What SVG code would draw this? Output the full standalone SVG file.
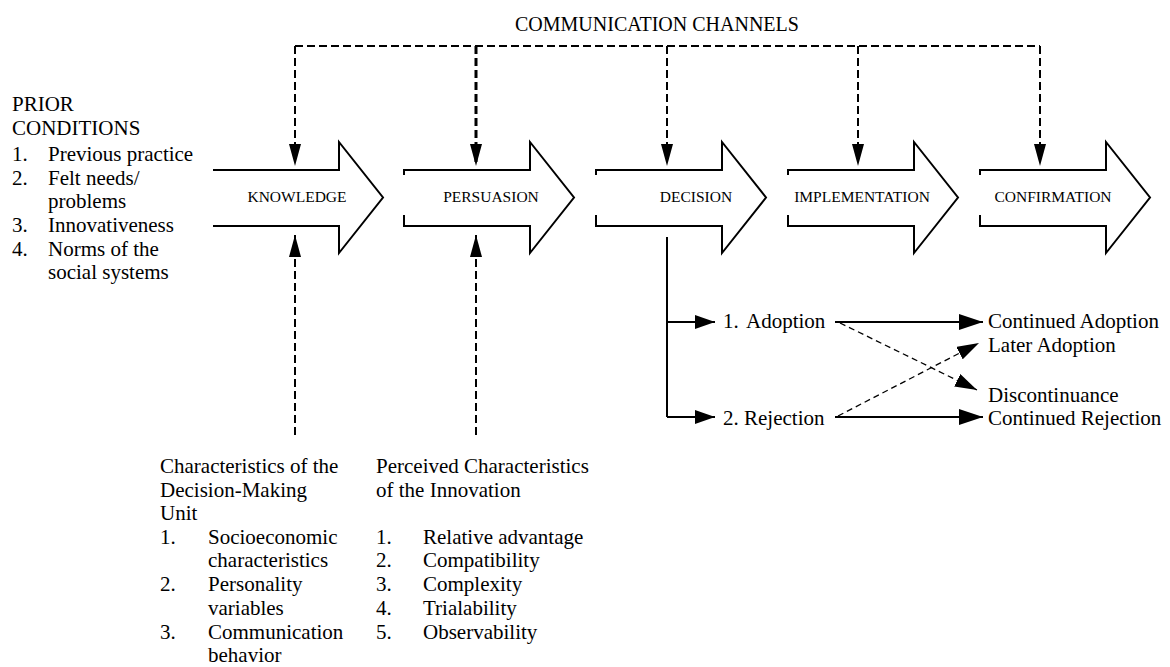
<svg xmlns="http://www.w3.org/2000/svg" width="1170" height="667" viewBox="0 0 1170 667">
<style>
text{fill:#000}
.b{font-size:21px}
.lab{font-size:15.5px;text-anchor:middle}
.shape{fill:#fff;stroke:#000;stroke-width:2;stroke-linejoin:miter}
.dash{fill:none;stroke:#000;stroke-width:2;stroke-dasharray:8 4}
.solid{fill:none;stroke:#000;stroke-width:2}
.thin{fill:none;stroke:#000;stroke-width:1.3;stroke-dasharray:6 4}
</style>
<defs>
<marker id="ahDash" markerUnits="userSpaceOnUse" viewBox="0 0 22 12" markerWidth="22" markerHeight="12" refX="22" refY="6" orient="auto"><path d="M0,0 L22,6 L0,12 z" fill="#000" stroke="none"/></marker>
<marker id="ahSmall" markerUnits="userSpaceOnUse" viewBox="0 0 20 14" markerWidth="20" markerHeight="14" refX="20" refY="7" orient="auto"><path d="M0,0 L20,7 L0,14 z" fill="#000" stroke="none"/></marker>
<marker id="ahBig" markerUnits="userSpaceOnUse" viewBox="0 0 24 16" markerWidth="24" markerHeight="16" refX="24" refY="8" orient="auto"><path d="M0,0 L24,8 L0,16 z" fill="#000" stroke="none"/></marker>
<marker id="ahDiag" markerUnits="userSpaceOnUse" viewBox="0 0 22 14" markerWidth="22" markerHeight="14" refX="22" refY="7" orient="auto"><path d="M0,0 L22,7 L0,14 z" fill="#000" stroke="none"/></marker>
</defs>
<rect width="1170" height="667" fill="#fff"/>
<g font-family="Liberation Serif, DejaVu Serif, serif">

<g id="title"><text x="515" y="31" font-size="20">COMMUNICATION CHANNELS</text></g>

<g id="prior-conditions">
<text class="b" x="12" y="111">PRIOR</text>
<text class="b" x="12" y="135">CONDITIONS</text>
<text class="b" x="12" y="161">1.</text><text class="b" x="48" y="161">Previous practice</text>
<text class="b" x="12" y="185">2.</text><text class="b" x="48" y="185">Felt needs/</text>
<text class="b" x="48" y="208">problems</text>
<text class="b" x="12" y="232">3.</text><text class="b" x="48" y="232">Innovativeness</text>
<text class="b" x="12" y="256">4.</text><text class="b" x="48" y="256">Norms of the</text>
<text class="b" x="48" y="279">social systems</text>
</g>

<g id="knowledge">
<path class="shape" d="M213,170 H339 V142 L383,197.5 L339,253 V226 H213"/>
<text class="lab" x="297" y="202">KNOWLEDGE</text>
</g>
<g id="persuasion">
<path class="shape" d="M404,175 V170 H530 V142 L574,197.5 L530,253 V226 H404 V215"/>
<text class="lab" x="491" y="202">PERSUASION</text>
</g>
<g id="decision">
<path class="shape" d="M596,175 V170 H722 V142 L766,197.5 L722,253 V226 H596 V215"/>
<text class="lab" x="696" y="202">DECISION</text>
</g>
<g id="implementation">
<path class="shape" d="M788,175 V170 H914 V142 L958,197.5 L914,253 V226 H788 V215"/>
<text class="lab" x="862" y="202">IMPLEMENTATION</text>
</g>
<g id="confirmation">
<path class="shape" d="M980,175 V170 H1106 V142 L1150,197.5 L1106,253 V226 H980 V215"/>
<text class="lab" x="1053" y="202">CONFIRMATION</text>
</g>

<g id="adoption"><text class="b" x="723" y="328">1.</text><text class="b" x="746" y="328">Adoption</text></g>
<g id="rejection"><text class="b" x="723" y="425">2. Rejection</text></g>
<g id="continued-adoption"><text class="b" x="988" y="328">Continued Adoption</text></g>
<g id="later-adoption"><text class="b" x="988" y="352">Later Adoption</text></g>
<g id="discontinuance"><text class="b" x="988" y="402">Discontinuance</text></g>
<g id="continued-rejection"><text class="b" x="988" y="425">Continued Rejection</text></g>

<g id="decision-unit-characteristics">
<text class="b" x="160" y="473">Characteristics of the</text>
<text class="b" x="160" y="497">Decision-Making</text>
<text class="b" x="160" y="520">Unit</text>
<text class="b" x="160" y="544">1.</text><text class="b" x="208" y="544">Socioeconomic</text>
<text class="b" x="208" y="567">characteristics</text>
<text class="b" x="160" y="591">2.</text><text class="b" x="208" y="591">Personality</text>
<text class="b" x="208" y="615">variables</text>
<text class="b" x="160" y="639">3.</text><text class="b" x="208" y="639">Communication</text>
<text class="b" x="208" y="662">behavior</text>
</g>

<g id="innovation-characteristics">
<text class="b" x="376" y="473">Perceived Characteristics</text>
<text class="b" x="376" y="497">of the Innovation</text>
<text class="b" x="376" y="544">1.</text><text class="b" x="423" y="544">Relative advantage</text>
<text class="b" x="376" y="567">2.</text><text class="b" x="423" y="567">Compatibility</text>
<text class="b" x="376" y="591">3.</text><text class="b" x="423" y="591">Complexity</text>
<text class="b" x="376" y="615">4.</text><text class="b" x="423" y="615">Trialability</text>
<text class="b" x="376" y="639">5.</text><text class="b" x="423" y="639">Observability</text>
</g>
</g>

<g id="connectors">
<path class="dash" d="M295,46 H1040"/>
<path class="dash" d="M295,46 V166" marker-end="url(#ahDash)"/>
<path class="dash" d="M476,46 V166" style="stroke-width:3" marker-end="url(#ahDash)"/>
<path class="dash" d="M667,46 V166" marker-end="url(#ahDash)"/>
<path class="dash" d="M858,46 V166" marker-end="url(#ahDash)"/>
<path class="dash" d="M1040,46 V166" marker-end="url(#ahDash)"/>
<path class="dash" d="M295,435 V235" marker-end="url(#ahDash)"/>
<path class="dash" d="M476,435 V235" marker-end="url(#ahDash)"/>
<path class="solid" d="M667,237 V417"/>
<path class="solid" d="M667,322 H715" marker-end="url(#ahSmall)"/>
<path class="solid" d="M667,417 H715" marker-end="url(#ahSmall)"/>
<path class="solid" d="M835,322 H983" marker-end="url(#ahBig)"/>
<path class="solid" d="M835,417 H983" marker-end="url(#ahBig)"/>
<path class="thin" d="M840,323 L977,390" marker-end="url(#ahDiag)"/>
<path class="thin" d="M838,416 L979,343" marker-end="url(#ahDiag)"/>
</g>
</svg>
